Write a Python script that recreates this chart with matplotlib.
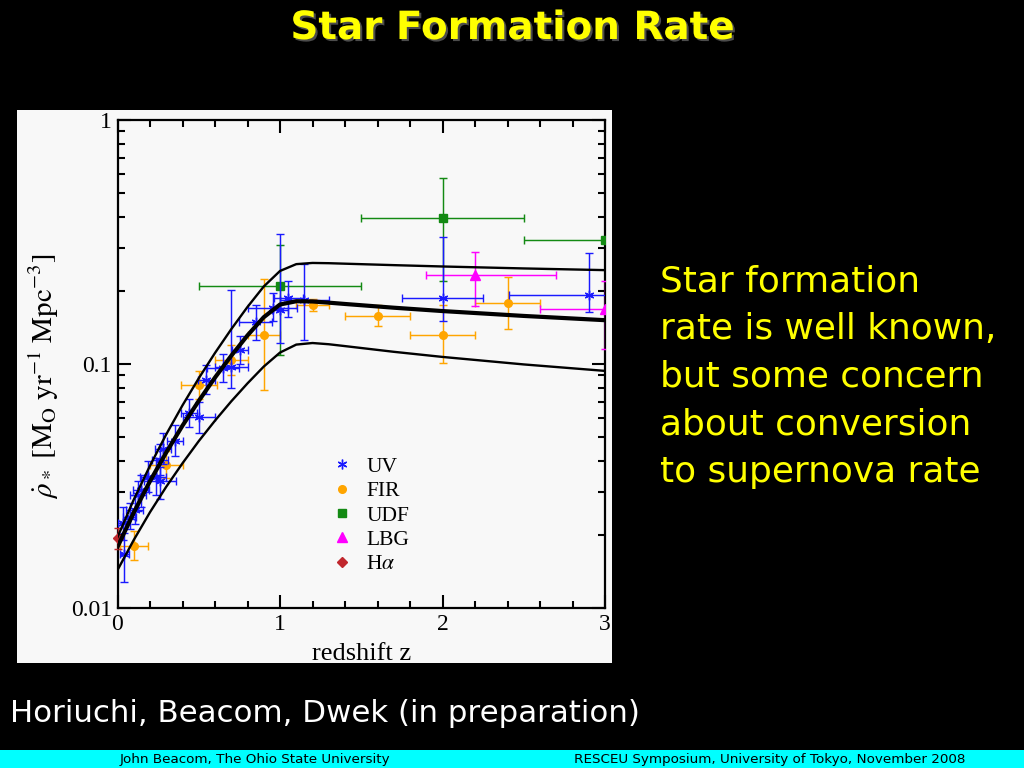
import matplotlib
matplotlib.use('Agg')
import matplotlib.pyplot as plt
from matplotlib.lines import Line2D
from matplotlib.patches import Rectangle
from matplotlib.ticker import FixedLocator, NullFormatter, MultipleLocator, LogLocator
import matplotlib.patheffects as pe

plt.rcParams['mathtext.fontset'] = 'stix'
SERIF = ['Liberation Serif', 'DejaVu Serif']

# ---------------- data ----------------
# model curves
curve_z = [0.0, 0.1, 0.2, 0.3, 0.4, 0.5, 0.6, 0.7, 0.8, 0.9, 1.0, 1.1, 1.2, 1.3, 1.4, 1.7, 2.0, 2.5, 3.0]
curve_mid = [0.0178, 0.0246, 0.0331, 0.0434, 0.0559, 0.0706, 0.0880, 0.1081, 0.1310, 0.1555,
             0.1753, 0.1808, 0.1804, 0.1784, 0.1762, 0.1701, 0.1648, 0.1574, 0.1512]
curve_up = [0.0195, 0.0278, 0.0383, 0.0515, 0.0677, 0.0874, 0.1110, 0.1389, 0.1714, 0.2078,
            0.2406, 0.2566, 0.2595, 0.2589, 0.2577, 0.2542, 0.2510, 0.2464, 0.2425]
curve_lo = [0.0143, 0.0190, 0.0247, 0.0314, 0.0392, 0.0483, 0.0586, 0.0703, 0.0833, 0.0976,
            0.1114, 0.1201, 0.1219, 0.1205, 0.1184, 0.1122, 0.1069, 0.0996, 0.0937]

# UV
uv_z = [0.033, 0.043, 0.074, 0.105, 0.125, 0.146, 0.187, 0.239, 0.26, 0.26, 0.28, 0.352, 0.44,
        0.50, 0.547, 0.65, 0.70, 0.753, 0.85, 0.955, 1.0, 1.05, 1.15, 2.0, 2.9]
uv_y = [0.0222, 0.0167, 0.0237, 0.0252, 0.029, 0.0305, 0.0345, 0.0345, 0.033, 0.0404, 0.045, 0.0485, 0.063,
        0.0605, 0.086, 0.096, 0.0975, 0.114, 0.148, 0.17, 0.166, 0.187, 0.183, 0.186, 0.192]
uv_xlo = [0.03, 0.03, 0.04, 0.05, 0.05, 0.05, 0.05, 0.06, 0.10, 0.05, 0.05, 0.05, 0.05,
          0.10, 0.05, 0.10, 0.10, 0.05, 0.10, 0.15, 0.05, 0.09, 0.15, 0.25, 0.49]
uv_xhi = [0.03, 0.03, 0.04, 0.05, 0.05, 0.05, 0.05, 0.06, 0.10, 0.05, 0.05, 0.05, 0.05,
          0.10, 0.05, 0.10, 0.10, 0.05, 0.10, 0.15, 0.05, 0.09, 0.15, 0.25, 0.30]
uv_ylo = [0.019, 0.0128, 0.021, 0.022, 0.025, 0.026, 0.030, 0.029, 0.028, 0.035, 0.039, 0.042, 0.055,
          0.052, 0.075, 0.084, 0.080, 0.100, 0.125, 0.150, 0.122, 0.156, 0.125, 0.150, 0.164]
uv_yhi = [0.026, 0.0203, 0.027, 0.029, 0.033, 0.035, 0.040, 0.041, 0.038, 0.047, 0.052, 0.056, 0.072,
          0.070, 0.099, 0.110, 0.201, 0.130, 0.175, 0.195, 0.340, 0.219, 0.257, 0.332, 0.284]

# FIR
fir_z = [0.1, 0.3, 0.5, 0.7, 0.9, 1.2, 1.6, 2.0, 2.4]
fir_y = [0.018, 0.0385, 0.082, 0.104, 0.131, 0.175, 0.158, 0.132, 0.178]
fir_xerr = [0.085, 0.10, 0.11, 0.10, 0.10, 0.10, 0.20, 0.20, 0.20]
fir_ylo = [0.0157, 0.034, 0.072, 0.090, 0.078, 0.165, 0.143, 0.1007, 0.139]
fir_yhi = [0.0206, 0.044, 0.094, 0.120, 0.223, 0.185, 0.174, 0.175, 0.228]

# UDF
udf_z = [1.0, 2.0, 3.0]
udf_y = [0.209, 0.398, 0.322]
udf_xerr = [0.5, 0.5, 0.5]
udf_ylo = [0.109, 0.219, 0.322]
udf_yhi = [0.308, 0.58, 0.322]

# LBG
lbg_z = [2.2, 3.0]
lbg_y = [0.232, 0.168]
lbg_xlo = [0.30, 0.40]
lbg_xhi = [0.50, 0.40]
lbg_ylo = [0.173, 0.115]
lbg_yhi = [0.287, 0.219]

# H-alpha
ha_z = [0.0]
ha_y = [0.0193]
ha_ylo = [0.0175]
ha_yhi = [0.0213]

legend_labels = ['UV', 'FIR', 'UDF', 'LBG', r'H$\alpha$']

text_lines = ['Star formation', 'rate is well known,', 'but some concern',
              'about conversion', 'to supernova rate']

# ---------------- figure ----------------
W, H = 1024, 768
fig = plt.figure(figsize=(W / 100, H / 100), dpi=100, facecolor='black')

def fx(px):
    return px / W

def fy(py):
    return 1 - py / H

panel_col = '#f8f8f8'
fig.patches.append(Rectangle((fx(17), fy(663)), 595 / W, 553 / H, transform=fig.transFigure,
                             facecolor=panel_col, edgecolor='none', zorder=-5))

ax = fig.add_axes([fx(117.5), fy(608), (605 - 117.5) / W, (608 - 120) / H])
ax.set_zorder(2)
ax.set_facecolor(panel_col)
ax.set_xlim(0, 3)
ax.set_yscale('log')
ax.set_ylim(0.01, 1)

for s in ax.spines.values():
    s.set_linewidth(1.6)

ax.xaxis.set_major_locator(FixedLocator([0, 1, 2, 3]))
ax.xaxis.set_minor_locator(MultipleLocator(0.2))
ax.yaxis.set_major_locator(FixedLocator([0.01, 0.1, 1]))
ax.yaxis.set_minor_locator(LogLocator(base=10, subs=range(2, 10)))
ax.yaxis.set_minor_formatter(NullFormatter())
ax.set_xticklabels(['0', '1', '2', '3'])
ax.set_yticklabels(['0.01', '0.1', '1'])
ax.tick_params(which='both', direction='in', top=True, right=True, width=1.5, colors='black')
ax.tick_params(which='major', length=9.5, pad=4, labelsize=17)
ax.tick_params(which='minor', length=5)
for lab in ax.get_xticklabels() + ax.get_yticklabels():
    lab.set_family(SERIF)

ekw = dict(elinewidth=1.05, capsize=2.8, capthick=1.05, linestyle='none')

ax.errorbar(uv_z, uv_y, xerr=[uv_xlo, uv_xhi],
            yerr=[[a - b for a, b in zip(uv_y, uv_ylo)], [b - a for a, b in zip(uv_y, uv_yhi)]],
            color='#1a1aff', marker=(6, 2, 0), ms=7, mew=1.0, zorder=4, **ekw)
ax.errorbar(fir_z, fir_y, xerr=fir_xerr,
            yerr=[[a - b for a, b in zip(fir_y, fir_ylo)], [b - a for a, b in zip(fir_y, fir_yhi)]],
            color='#ffa500', marker='o', ms=5.5, mec='#ffa500', zorder=3, **ekw)
ax.errorbar(udf_z, udf_y, xerr=udf_xerr,
            yerr=[[a - b for a, b in zip(udf_y, udf_ylo)], [b - a for a, b in zip(udf_y, udf_yhi)]],
            color='#138a13', marker='s', ms=6, zorder=3, **ekw)
ax.errorbar(lbg_z, lbg_y, xerr=[lbg_xlo, lbg_xhi],
            yerr=[[a - b for a, b in zip(lbg_y, lbg_ylo)], [b - a for a, b in zip(lbg_y, lbg_yhi)]],
            color='#ff00ff', marker='^', ms=7, zorder=3, **ekw)
ax.errorbar(ha_z, ha_y,
            yerr=[[a - b for a, b in zip(ha_y, ha_ylo)], [b - a for a, b in zip(ha_y, ha_yhi)]],
            color='#c0272d', marker='D', ms=5, zorder=5, clip_on=False, **ekw)

ax.plot(curve_z, curve_up, color='black', lw=1.7, zorder=6)
ax.plot(curve_z, curve_lo, color='black', lw=1.7, zorder=6)
ax.plot(curve_z, curve_mid, color='black', lw=3.0, zorder=6)

handles = [
    Line2D([], [], ls='none', marker=(6, 2, 0), color='#1a1aff', ms=7, mew=1.0),
    Line2D([], [], ls='none', marker='o', color='#ffa500', ms=5.5),
    Line2D([], [], ls='none', marker='s', color='#138a13', ms=5.5),
    Line2D([], [], ls='none', marker='^', color='#ff00ff', ms=6.5),
    Line2D([], [], ls='none', marker='D', color='#c0272d', ms=5),
]
leg = ax.legend(handles, legend_labels, loc='upper left', bbox_to_anchor=(fx(320), fy(446)),
                bbox_transform=fig.transFigure, frameon=False, prop={'family': SERIF, 'size': 15.5},
                handlelength=1.0, handletextpad=0.65, labelspacing=0.2, borderpad=0.0)

fig.text(fx(362), fy(654), 'redshift z', ha='center', va='center', fontsize=19, family=SERIF,
         color='black', zorder=3)
fig.text(fx(44), fy(376), r'$\dot{\rho}_*\ [\mathrm{M_O\ yr^{-1}\ Mpc^{-3}}]$', rotation=90,
         ha='center', va='center', fontsize=21, color='black', zorder=3)

# slide texts
t = fig.text(0.5, fy(28), 'Star Formation Rate', ha='center', va='center', fontsize=28,
             fontweight='bold', color='#ffff00', family='DejaVu Sans')
t.set_path_effects([pe.withSimplePatchShadow(offset=(1.5, -1.5), shadow_rgbFace='#555555', alpha=0.9)])

for i, line in enumerate(text_lines):
    fig.text(fx(660), fy(291 + i * 47.8), line, ha='left', va='baseline', fontsize=25.8,
             color='#ffff00', family='DejaVu Sans')

fig.text(fx(10), fy(722), 'Horiuchi, Beacom, Dwek (in preparation)', ha='left', va='baseline',
         fontsize=22.2, color='white', family='DejaVu Sans')

fig.patches.append(Rectangle((0, 0), 1, 18 / H, transform=fig.transFigure,
                             facecolor='#00ffff', edgecolor='none', zorder=-5))
fig.text(fx(255), fy(759), 'John Beacom, The Ohio State University', ha='center', va='center',
         fontsize=9.7, color='black', family='DejaVu Sans')
fig.text(fx(770), fy(759), 'RESCEU Symposium, University of Tokyo, November 2008', ha='center',
         va='center', fontsize=9.7, color='black', family='DejaVu Sans')

fig.savefig('out.png', dpi=100, facecolor='black')
